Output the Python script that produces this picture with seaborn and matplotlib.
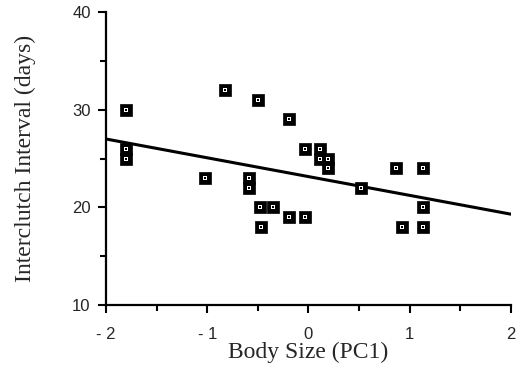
import numpy as np
import pandas as pd
import matplotlib
matplotlib.use("Agg")
import matplotlib.pyplot as plt
from matplotlib.ticker import MultipleLocator
import seaborn as sns

# data
body_size = [-1.80, -1.80, -1.80, -0.82, -0.50, -0.19, -0.03, 0.11, 0.11, 0.19,
             0.19, 0.86, 1.13, 0.52, 1.13, 1.13, 0.92, -1.02, -0.59, -0.59,
             -0.48, -0.35, -0.19, -0.03, -0.47]
interval = [30, 26, 25, 32, 31, 29, 26, 26, 25, 25,
            24, 24, 24, 22, 20, 18, 18, 23, 23, 22,
            20, 20, 19, 19, 18]
fit_x = [-2, 2]
fit_y = [27.0, 19.3]

df = pd.DataFrame({"x": body_size, "y": interval})
fit = pd.DataFrame({"x": fit_x, "y": fit_y})

sns.set_style("ticks")
fig = plt.figure(figsize=(5.26, 3.66), dpi=100)
ax = fig.add_axes([0.2015, 0.1667, 0.77, 0.8003])

sns.lineplot(data=fit, x="x", y="y", color="black", linewidth=2.2, ax=ax)
# square markers: black box, white ring, black dot
sns.scatterplot(data=df, x="x", y="y", marker="s", s=70, color="black",
                edgecolor="black", linewidth=0.5, ax=ax, zorder=3)
sns.scatterplot(data=df, x="x", y="y", marker="s", s=7, color="white",
                edgecolor="white", linewidth=0, ax=ax, zorder=4)
sns.scatterplot(data=df, x="x", y="y", marker="s", s=1.2, color="black",
                edgecolor="black", linewidth=0, ax=ax, zorder=5)

ax.set_xlim(-2, 2)
ax.set_ylim(10, 40)
ax.set_xticks([-2, -1, 0, 1, 2])
ax.set_xticklabels(["- 2", "- 1", "0", "1", "2"], family="Liberation Sans", fontsize=12)
ax.set_yticks([10, 20, 30, 40])
ax.set_yticklabels(["10", "20", "30", "40"], family="Liberation Sans", fontsize=12)
ax.xaxis.set_minor_locator(MultipleLocator(0.5))
ax.yaxis.set_minor_locator(MultipleLocator(5))
ax.tick_params(which="major", length=6, width=1.5, color="black")
ax.tick_params(which="minor", length=4, width=1.5, color="black")
ax.tick_params(axis="x", which="major", pad=10)
ax.tick_params(axis="y", which="major", pad=5)
for s in ["left", "bottom"]:
    ax.spines[s].set_linewidth(1.6)
    ax.spines[s].set_color("black")
sns.despine(ax=ax)

ax.set_xlabel("Body Size (PC1)", family="Liberation Serif", fontsize=17, labelpad=0)
ax.set_ylabel("Interclutch Interval (days)", family="Liberation Serif", fontsize=17, labelpad=26)

fig.savefig("out.png", dpi=100)
